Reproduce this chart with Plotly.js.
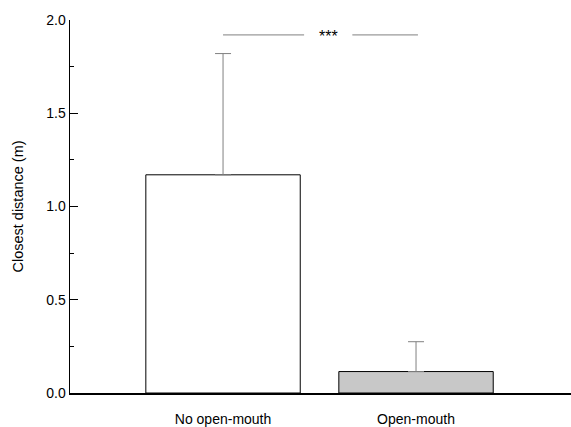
<!DOCTYPE html>
<html><head><meta charset="utf-8">
<script src="https://cdn.plot.ly/plotly-3.0.1.min.js"></script>
<style>html,body{margin:0;padding:0;background:#fff}</style>
</head><body><div id="chart" style="width:571px;height:427px"></div>
<script>
const categories = ["No open-mouth", "Open-mouth"];
const means = [1.17, 0.115];
const errors = [0.65, 0.16];
const barColors = ["#ffffff", "#c8c8c8"];
const sigLevel = 1.92;
const sigText = "***";
const yTicks = [0.0, 0.5, 1.0, 1.5, 2.0];

const xPos = categories.map((c, i) => i);

const trace = {
  type: "bar",
  x: xPos,
  y: means,
  width: 0.8,
  marker: {color: barColors, line: {color: "#000000", width: 1}},
  error_y: {type: "data", array: errors, arrayminus: errors.map(() => 0), symmetric: false,
            color: "#808080", thickness: 1, width: 8},
  hoverinfo: "none"
};

const layout = {
  width: 571, height: 427,
  margin: {l: 70, r: 0, t: 20, b: 34},
  paper_bgcolor: "#fff", plot_bgcolor: "#fff",
  font: {family: "Liberation Sans, Arial, sans-serif", size: 13, color: "#000"},
  showlegend: false,
  bargap: 0.2,
  xaxis: {
    range: [-0.793, 1.803],
    tickmode: "array", tickvals: xPos, ticktext: categories,
    ticks: "", showgrid: false, zeroline: false,
    showline: true, linecolor: "#000", linewidth: 2,
    ticklabelstandoff: 12,
    tickfont: {size: 14}
  },
  yaxis: {
    range: [0, 2.0],
    tickmode: "array", tickvals: yTicks, ticktext: yTicks.map(v => v.toFixed(1)),
    ticks: "inside", ticklen: 8, tickwidth: 1, tickcolor: "#000",
    minor: {dtick: 0.25, ticks: "inside", ticklen: 4, tickwidth: 1, tickcolor: "#000", showgrid: false},
    showgrid: false, zeroline: false,
    showline: true, linecolor: "#000", linewidth: 1.5,
    tickfont: {size: 14},
    title: {text: "Closest distance (m)", font: {size: 14.5}, standoff: 19}
  },
  shapes: [
    {type: "line", xref: "x", yref: "y", x0: xPos[0], x1: 0.42, y0: sigLevel, y1: sigLevel,
     line: {color: "#808080", width: 1}},
    {type: "line", xref: "x", yref: "y", x0: 0.67, x1: xPos[1] + 0.01, y0: sigLevel, y1: sigLevel,
     line: {color: "#808080", width: 1}}
  ],
  annotations: [
    {x: 0.545, y: sigLevel, xref: "x", yref: "y", text: sigText, showarrow: false,
     font: {size: 16, color: "#000"}, yshift: -2}
  ]
};

Plotly.newPlot("chart", [trace], layout, {displayModeBar: false, staticPlot: true});
</script></body></html>
